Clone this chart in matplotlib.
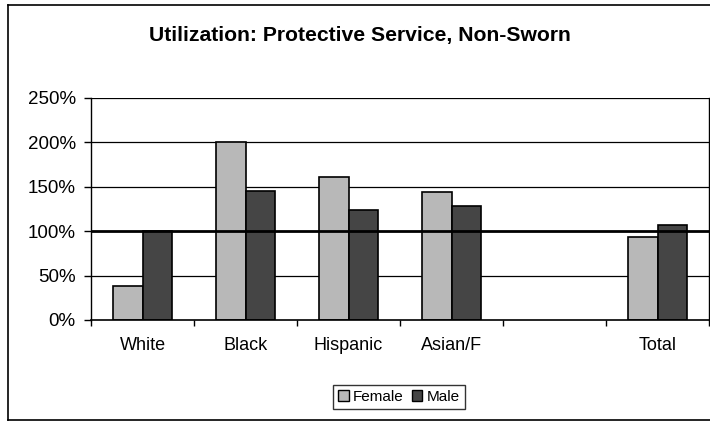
import numpy as np
import matplotlib.pyplot as plt
from matplotlib.lines import Line2D

plt.rcParams['font.family'] = ['Liberation Sans', 'DejaVu Sans']

# data (percent of availability)
categories = ['White', 'Black', 'Hispanic', 'Asian/F', '', 'Total']
female = [38, 201, 161, 144, np.nan, 93]
male = [100, 145, 124, 128, np.nan, 107]
yticks = [0, 50, 100, 150, 200, 250]

W, H = 710, 423
fig = plt.figure(figsize=(W / 100, H / 100), dpi=100)
ax = fig.add_axes([91 / W, 1 - 320 / H, (709 - 91) / W, (320 - 98) / H])

x = np.arange(len(categories))
bw = 0.285
ax.bar(x - bw / 2, female, bw, color='#b8b8b8', edgecolor='black', linewidth=1.2, zorder=2, label='Female')
ax.bar(x + bw / 2, male, bw, color='#454545', edgecolor='black', linewidth=1.2, zorder=2, label='Male')

# gridlines, with the heavy 100% reference line
for v in yticks[1:]:
    if v == 100:
        ax.axhline(v, color='black', lw=2.0, zorder=3)
    else:
        ax.axhline(v, color='black', lw=0.9, zorder=1)

ax.set_xlim(-0.5, len(categories) - 0.5)
ax.set_ylim(0, 250)
ax.set_yticks(yticks)
ax.set_yticklabels(['%d%%' % v for v in yticks], fontsize=13.5)
ax.set_xticks(x)
ax.set_xticklabels(categories, fontsize=13)
ax.set_xticks(np.arange(len(categories) + 1) - 0.5, minor=True)
ax.tick_params(axis='x', which='major', length=0, pad=12)
ax.tick_params(axis='x', which='minor', length=4, width=1, direction='out')
ax.tick_params(axis='y', length=5, width=1, direction='out', pad=6)

ax.spines['top'].set_visible(False)
ax.spines['right'].set_linewidth(1)
ax.spines['left'].set_linewidth(1)
ax.spines['bottom'].set_linewidth(1.2)

fig.text(360 / W, 1 - 36 / H, 'Utilization: Protective Service, Non-Sworn',
         ha='center', va='center', fontsize=15.2, fontweight='bold')

handles = [plt.Rectangle((0, 0), 1, 1, facecolor='#b8b8b8', edgecolor='black'),
           plt.Rectangle((0, 0), 1, 1, facecolor='#454545', edgecolor='black')]
leg = fig.legend(handles, ['Female', 'Male'], loc='center', ncol=2,
                 bbox_to_anchor=(399 / W, 1 - 397 / H), fontsize=11,
                 frameon=True, fancybox=False, edgecolor='black',
                 handlelength=0.7, handleheight=0.7, handletextpad=0.3,
                 columnspacing=0.5, borderpad=0.35)
leg.get_frame().set_linewidth(1)

# outer chart border
fig.add_artist(Line2D([8 / W, 8 / W], [1 - 5 / H, 1 - 420 / H], color='black', lw=1.2))
fig.add_artist(Line2D([8 / W, 1], [1 - 5 / H, 1 - 5 / H], color='black', lw=1.2))
fig.add_artist(Line2D([8 / W, 1], [1 - 420 / H, 1 - 420 / H], color='black', lw=1.2))

fig.savefig('out.png', dpi=100)
